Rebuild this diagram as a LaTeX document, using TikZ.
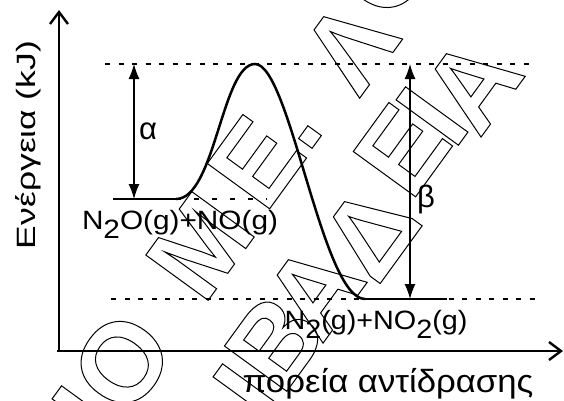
\documentclass[tikz,border=0pt]{standalone}
\usepackage{fontspec}
\setmainfont{Liberation Sans}
\usetikzlibrary{arrows.meta}
\newcommand\hollow[1]{\special{pdf:literal direct 1 Tr 1 w}#1\special{pdf:literal direct 0 Tr}}
\newcommand\sub[1]{\raisebox{-0.36em}{#1}}
\begin{document}
\begin{tikzpicture}[x=1pt,y=-1pt,
  wm/.style={rotate=54, inner sep=0, font=\fontsize{112}{112}\selectfont\bfseries},
  axis/.style={line width=2.8, -{Straight Barb[length=12,width=18,line width=2.4]}},
  guide/.style={line width=1.3, dash pattern=on 5 off 8.5},
  dotguide/.style={line width=2.2, dash pattern=on 5 off 13},
  level/.style={line width=2.8},
  curve/.style={line width=2.5},
  dim/.style={line width=1.3, {Latex[length=15,width=11]}-{Latex[length=15,width=11]}},
  lbl/.style={inner sep=0, font=\fontsize{26.5}{26.5}\selectfont},
  greek/.style={inner sep=0, font=\fontsize{31}{31}\selectfont}]
\useasboundingbox (0,0) rectangle (564,400);
\fill[white] (0,0) rectangle (564,400);
% watermark
\begin{scope}
\clip (0,0) rectangle (564,400);
\node[wm] (w1) at (88,415) {\hollow{Ι}};
\node[wm] (w2) at (122,362) {\hollow{Ο}};
\node[wm] (w3) at (200,246) {\hollow{Μ}};
\node[wm] (w4) at (256,162) {\hollow{Ε}};
\node[wm] (w5) at (310,137) {\hollow{.}};
\node[wm] (w6) at (350,46) {\hollow{Λ}};
\node[wm] (w7) at (385,-33) {\hollow{Ο}};
\node[wm] (v1) at (249,393) {\hollow{Ι}};
\node[wm] (v2) at (275,342) {\hollow{Β}};
\node[wm] (v3) at (314,290) {\hollow{Α}};
\node[wm] (v4) at (370,232) {\hollow{Δ}};
\node[wm] (v5) at (402,150) {\hollow{Ε}};
\node[wm] (v6) at (432,116) {\hollow{Ι}};
\node[wm] (v7) at (472,84) {\hollow{Α}};
\end{scope}
% axes
\coordinate (O) at (59,352);
\coordinate (ytop) at (59,10);
\coordinate (xs) at (57,351);
\coordinate (xe) at (563,351);
\draw[axis] (O) -- (ytop);
\draw[axis] (xs) -- (xe);
% guide lines
\coordinate (t1) at (105,64);
\coordinate (t2) at (535,64);
\coordinate (b1) at (111,299);
\coordinate (b2) at (535,299);
\draw[guide] (t1) -- (t2);
\draw[guide] (b1) -- (b2);
% energy profile
\coordinate (r1) at (113,199);
\coordinate (r2) at (176,199);
\coordinate (r3) at (267,199);
\coordinate (pk) at (255,64);
\coordinate (p1) at (365,299);
\coordinate (p2) at (447,299);
\draw[level] (r1) -- (r2);
\draw[dotguide] (r2) -- (r3);
\draw[curve] (r2) .. controls (215,199) and (222,64) .. (pk)
  .. controls (290,64) and (322,299) .. (p1);
\draw[level] (p1) -- (p2);
% dimension arrows
\coordinate (a1) at (134,64);
\coordinate (a2) at (134,199);
\coordinate (c1) at (410,64);
\coordinate (c2) at (410,299);
\draw[dim] (a1) -- (a2);
\draw[dim] (c1) -- (c2);
% labels
\node[greek] (alpha) at (148,131) {α};
\node[greek] (beta) at (426,199) {β};
\node[lbl, anchor=base] (react) at (180,229) {\resizebox{196pt}{\height}{N\sub{2}O(g)+NO(g)}};
\node[lbl, anchor=base] (prod) at (376,329) {\resizebox{183pt}{\height}{N\sub{2}(g)+NO\sub{2}(g)}};
\node[inner sep=0, font=\fontsize{32}{32}\selectfont, anchor=base] (xlab) at (388,392) {\resizebox{291pt}{\height}{πορεία αντίδρασης}};
\node[lbl, rotate=90, anchor=base] (ylab) at (35,145) {\resizebox{208pt}{\height}{Ενέργεια (kJ)}};
\end{tikzpicture}
\end{document}
